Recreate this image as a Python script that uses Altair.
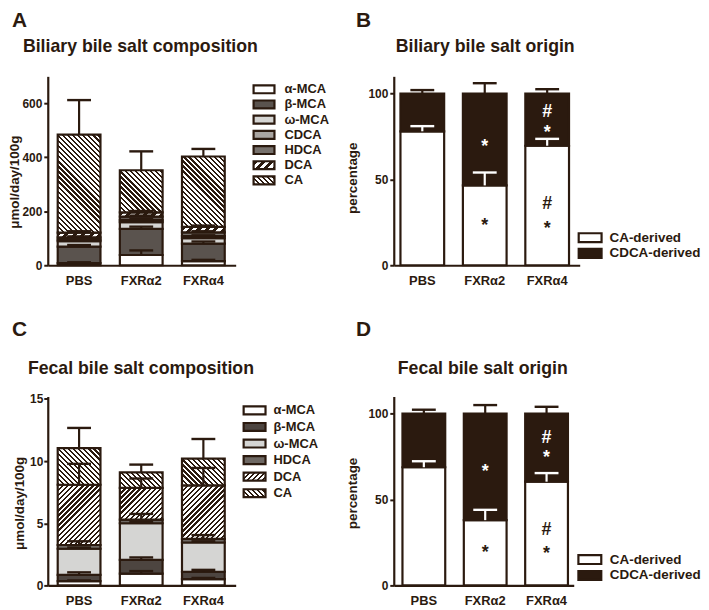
import math
import altair as alt
import pandas as pd

DARK = "#2b1a0f"
WHITE = "#ffffff"
FONT = "Liberation Sans"

groups = ["PBS", "FXRα2", "FXRα4"]

# ---- Panel A: biliary bile salt composition (umol/day/100g) ----
bil_comps = ["α-MCA", "β-MCA", "ω-MCA", "CDCA", "HDCA", "DCA", "CA"]
bil_pbs = [8, 61, 20, 6, 8, 18, 363]
bil_pbs_err = [3, 6, 4, 3, 4, 5, 128]
bil_fxr2 = [38, 97, 25, 8, 12, 16, 156]
bil_fxr2_err = [17, 8, 5, 3, 4, 5, 70]
bil_fxr4 = [15, 65, 20, 8, 14, 20, 261]
bil_fxr4_err = [5, 8, 4, 3, 4, 5, 28]

# ---- Panel B: biliary bile salt origin (%) ----
origin_comps = ["CA-derived", "CDCA-derived"]
bil_ca_derived = [78, 46.5, 69.6]
bil_ca_derived_err = [3, 7.5, 4]
bil_cdca_derived = [22, 53.5, 30.4]
bil_cdca_derived_err = [2, 6, 2.5]
bil_ann_group = ["FXRα2", "FXRα2", "FXRα4", "FXRα4", "FXRα4", "FXRα4"]
bil_ann_y = [72, 26, 90, 80, 36, 24]
bil_ann_label = ["*", "*", "#", "*", "#", "*"]
bil_ann_tone = ["light", "dark", "light", "light", "dark", "dark"]

# ---- Panel C: fecal bile salt composition (umol/day/100g) ----
fec_comps = ["α-MCA", "β-MCA", "ω-MCA", "HDCA", "DCA", "CA"]
fec_pbs = [0.35, 0.5, 2.1, 0.3, 4.85, 2.95]
fec_pbs_err = [0.05, 0.2, 0.1, 0.3, 1.68, 1.62]
fec_fxr2 = [0.95, 1.1, 2.95, 0.3, 2.55, 1.25]
fec_fxr2_err = [0.2, 0.2, 0.1, 0.45, 0.75, 0.62]
fec_fxr4 = [0.5, 0.6, 2.35, 0.3, 4.3, 2.15]
fec_fxr4_err = [0.1, 0.15, 0.1, 0.3, 1.4, 1.58]

# ---- Panel D: fecal bile salt origin (%) ----
fec_ca_derived = [68.8, 38, 60.4]
fec_ca_derived_err = [3.5, 6, 5]
fec_cdca_derived = [31.2, 62, 39.6]
fec_cdca_derived_err = [2.3, 5, 4]
fec_ann_group = ["FXRα2", "FXRα2", "FXRα4", "FXRα4", "FXRα4", "FXRα4"]
fec_ann_y = [69, 22, 86.4, 77, 33, 21]
fec_ann_label = ["*", "*", "#", "*", "#", "*"]
fec_ann_tone = ["light", "dark", "light", "light", "dark", "dark"]

H = 190

# fill styles: solid colour or hatch (direction, period px, dark fraction)
bil_styles = {"α-MCA": WHITE, "β-MCA": "#5a534e", "ω-MCA": "#d5d5d3", "CDCA": "#a9a5a1",
              "HDCA": "#77716c", "DCA": ("fwd", 6.0, 0.5), "CA": ("back", 3.6, 0.45)}
fec_styles = {"α-MCA": WHITE, "β-MCA": "#4d4540", "ω-MCA": "#d5d5d3", "HDCA": "#6e6863",
              "DCA": ("fwd", 3.6, 0.45), "CA": ("back", 3.6, 0.45)}
org_styles = {"CA-derived": WHITE, "CDCA-derived": DARK}


def stripes(w, h, direction, period, frac):
    w = max(w, 1.0)
    h = max(h, 1.0)
    n = (w + h) / (math.sqrt(2) * period)
    a = (1 / h + 1 / w) / (1 / h ** 2 + 1 / w ** 2)
    if direction == "back":
        x1, y1, x2, y2 = 0, 1, a / h, 1 - a / w
    else:
        x1, y1, x2, y2 = 0, 0, a / h, a / w
    stops = []
    k = 0
    while k < n:
        t0 = k / n
        t1 = min((k + frac) / n, 1.0)
        t2 = min((k + 1) / n, 1.0)
        stops += [{"offset": t0, "color": DARK}, {"offset": t1, "color": DARK},
                  {"offset": t1, "color": WHITE}, {"offset": t2, "color": WHITE}]
        k += 1
    return {"gradient": "linear", "x1": x1, "y1": y1, "x2": x2, "y2": y2, "stops": stops}


def stack_frame(comps, rows, errs):
    recs = []
    for g, vals, es in zip(groups, rows, errs):
        base = 0.0
        for i, (c, v, e) in enumerate(zip(comps, vals, es)):
            recs.append(dict(group=g, comp=c, idx=i, lo=base, hi=base + v, err=base + v + e))
            base += v
    return pd.DataFrame(recs)


def band_geom(width, pi, po):
    step = width / (3 - pi + 2 * po)
    return step * (1 - pi)


def fill_for(df, styles, bw, ppu):
    conds = []
    for _, r in df.iterrows():
        st = styles[r["comp"]]
        if isinstance(st, tuple):
            h = (r["hi"] - r["lo"]) * ppu
            conds.append({"test": f"datum.group === '{r['group']}' && datum.comp === '{r['comp']}'",
                          "value": stripes(bw, h, *st)})
    for c, st in styles.items():
        if not isinstance(st, tuple):
            conds.append({"test": f"datum.comp === '{c}'", "value": st})
    return {"condition": conds, "value": WHITE}


def text_layer(txt, x, y, size):
    return alt.Chart(pd.DataFrame({"t": [txt]})).mark_text(
        align="left", baseline="alphabetic", fontSize=size, fontWeight="bold", color=DARK, font=FONT
    ).encode(text="t:N", x=alt.value(x), y=alt.value(y))


def panel(df, styles, geom, yaxis, letter, title, ann=None, light_err=None):
    width, ymax, pi, po, align = geom["w"], geom["ymax"], geom["pi"], geom["po"], geom["align"]
    bw = band_geom(width, pi, po)
    ppu = H / ymax
    xenc = alt.X("group:N", sort=groups,
                 scale=alt.Scale(paddingInner=pi, paddingOuter=po, align=align),
                 axis=alt.Axis(title=None, ticks=False, labelAngle=0, labelFontSize=13,
                               labelPadding=9, labelFont=FONT, labelFontWeight="bold",
                               labelColor=DARK, domainColor=DARK, domainWidth=2.2))
    xg = alt.X("group:N", sort=groups)
    yscale = alt.Scale(domain=[0, ymax], nice=False, zero=True)
    base = alt.Chart(df)
    bars = base.mark_bar(stroke=DARK, strokeWidth=2.2).encode(
        x=xenc, y=alt.Y("lo:Q", scale=yscale, axis=yaxis), y2="hi:Q",
        fill=fill_for(df, styles, bw, ppu))
    if light_err:
        ecol = alt.condition(f"datum.comp === '{light_err}'", alt.value(WHITE), alt.value(DARK))
    else:
        ecol = alt.value(DARK)
    rules = base.mark_rule(strokeWidth=2.2).encode(x=xg, y="hi:Q", y2="err:Q", color=ecol)
    caps = base.mark_tick(thickness=2.4, size=24, opacity=1).encode(x=xg, y="err:Q", color=ecol)
    layers = [bars, rules, caps]
    if ann is not None:
        for lab, dy in (("*", 5), ("#", 1)):
            sub = ann[ann["label"] == lab]
            layers.append(alt.Chart(sub).mark_text(
                fontSize=18, fontWeight="bold", font=FONT, baseline="middle", dy=dy
            ).encode(x=xg, y="y:Q", text="label:N",
                     color=alt.condition("datum.tone === 'light'", alt.value(WHITE), alt.value(DARK))))
    layers.append(text_layer(letter[0], letter[1], letter[2], 21))
    layers.append(text_layer(title[0], title[1], title[2], 17.8))
    return alt.layer(*layers).properties(width=width, height=H)


def legend(comps, styles, sw_x, sw_w, sw_h, row0, step, text_x, cell_w, fsize=13):
    df = pd.DataFrame({"comp": comps})
    n = len(comps)
    rng = [row0 - step / 2, row0 + step * (n - 1) + step / 2]
    pi = 1 - sw_h / step
    y = alt.Y("comp:N", sort=comps, axis=None,
              scale=alt.Scale(type="band", range=rng, paddingInner=pi, paddingOuter=pi / 2))
    conds = []
    for c, st in styles.items():
        v = stripes(sw_w, sw_h, *st) if isinstance(st, tuple) else st
        conds.append({"test": f"datum.comp === '{c}'", "value": v})
    sw = alt.Chart(df).mark_rect(stroke=DARK, strokeWidth=2.2).encode(
        y=y, x=alt.value(sw_x), x2=alt.value(sw_x + sw_w), fill={"condition": conds, "value": WHITE})
    tx = alt.Chart(df).mark_text(align="left", baseline="middle", fontSize=fsize, fontWeight="bold",
                                 color=DARK, font=FONT).encode(y=y, x=alt.value(text_x), text="comp:N")
    return alt.layer(sw, tx).properties(width=cell_w, height=H)


def yaxis(values, title, tx, ty, lpad, lsize=12):
    return alt.Axis(values=values, title=title, grid=False, tickSize=4, tickWidth=2, tickColor=DARK,
                    labelPadding=lpad, labelFontSize=lsize, labelFont=FONT, labelFontWeight="bold",
                    labelColor=DARK, domainColor=DARK, domainWidth=2.2, format="d",
                    titleFont=FONT, titleFontSize=13.5, titleFontWeight="bold", titleColor=DARK,
                    titleX=tx, titleY=ty, titleAlign="center", titleBaseline="alphabetic")


dfA = stack_frame(bil_comps, [bil_pbs, bil_fxr2, bil_fxr4], [bil_pbs_err, bil_fxr2_err, bil_fxr4_err])
dfB = stack_frame(origin_comps,
                  [list(p) for p in zip(bil_ca_derived, bil_cdca_derived)],
                  [list(p) for p in zip(bil_ca_derived_err, bil_cdca_derived_err)])
dfC = stack_frame(fec_comps, [fec_pbs, fec_fxr2, fec_fxr4], [fec_pbs_err, fec_fxr2_err, fec_fxr4_err])
dfD = stack_frame(origin_comps,
                  [list(p) for p in zip(fec_ca_derived, fec_cdca_derived)],
                  [list(p) for p in zip(fec_ca_derived_err, fec_cdca_derived_err)])
annB = pd.DataFrame({"group": bil_ann_group, "y": bil_ann_y, "label": bil_ann_label, "tone": bil_ann_tone})
annD = pd.DataFrame({"group": fec_ann_group, "y": fec_ann_y, "label": fec_ann_label, "tone": fec_ann_tone})

gA = dict(w=189, ymax=700, pi=0.312, po=0.168, align=0.476)
gB = dict(w=187, ymax=110, pi=0.30, po=0.139, align=0.385)
gC = dict(w=189, ymax=15.2, pi=0.312, po=0.168, align=0.476)
gD = dict(w=181, ymax=110, pi=0.303, po=0.118, align=0.6)

pA = panel(dfA, bil_styles, gA, yaxis([0, 200, 400, 600], "μmol/day/100g", -29, 106, 2),
           ("A", -36, -50), ("Biliary bile salt composition", -25, -24))
pB = panel(dfB, org_styles, gB, yaxis([0, 50, 100], "percentage", -37, 102, 2),
           ("B", -38, -50), ("Biliary bile salt origin", 2, -24), ann=annB, light_err="CA-derived")
pC = panel(dfC, fec_styles, gC, yaxis([0, 5, 10, 15], "μmol/day/100g", -24, 107, 1),
           ("C", -36, -61), ("Fecal bile salt composition", -20, -23), )
pD = panel(dfD, org_styles, gD, yaxis([0, 50, 100], "percentage", -37, 97, 2),
           ("D", -38, -61), ("Fecal bile salt origin", 4, -23), ann=annD, light_err="CA-derived")

lA = legend(bil_comps, bil_styles, 18, 21, 8, 13, 15.28, 49, 159)
lB = legend(origin_comps, org_styles, -1, 23, 9, 162.3, 15.7, 30, 110, fsize=13.5)
lC = legend(fec_comps, fec_styles, 8, 22, 8, 14, 16.66, 38, 159)
lD = legend(origin_comps, org_styles, -1.3, 23, 9, 164, 16, 30.3, 110, fsize=13.5)

chart = alt.concat(pA, lA, pB, lB, pC, lC, pD, lD, columns=4,
                   spacing={"row": 132, "column": 0}, bounds="flush").properties(
    padding={"left": 0, "top": 0, "right": 0, "bottom": 0}
).configure(font=FONT, background="white").configure_view(stroke=None)

chart.save("out.html", embed_options={"renderer": "svg", "actions": False})
